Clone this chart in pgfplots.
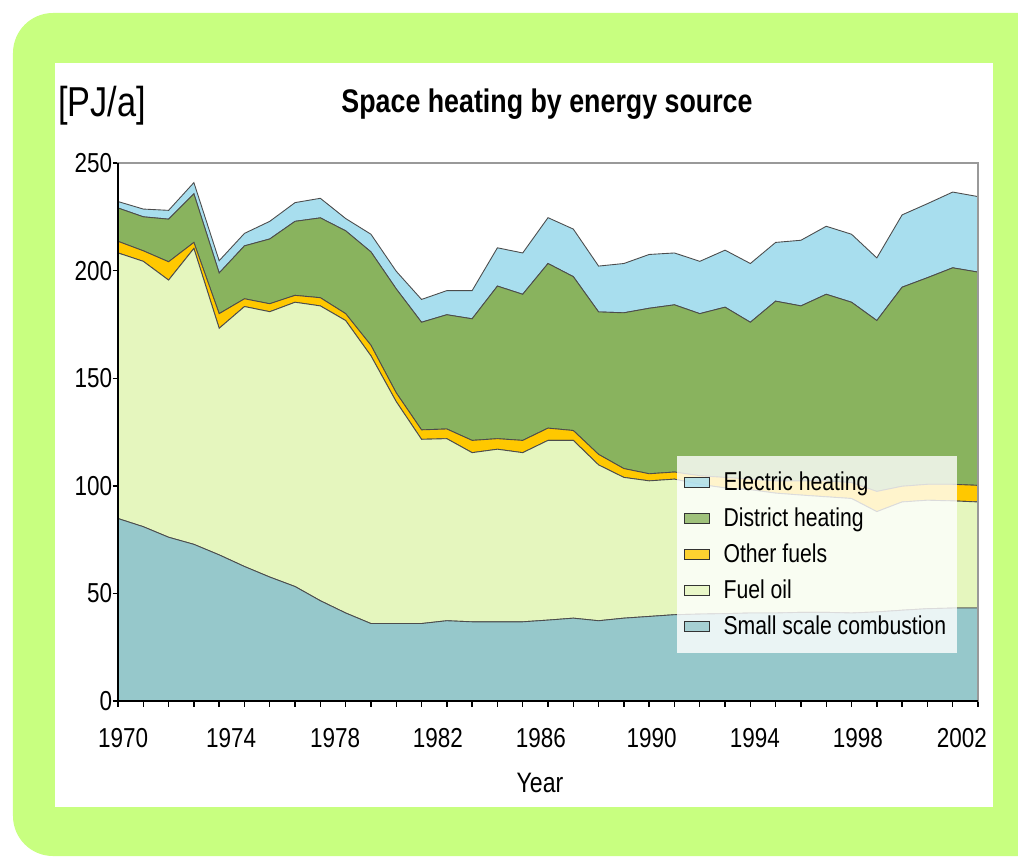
\documentclass[border=0pt]{standalone}
\usepackage{fontspec}
\setmainfont{Liberation Sans}[FakeStretch=0.82]
\usepackage{pgfplots}
\usepackage{pgfplotstable}
\pgfplotsset{compat=1.18}

\definecolor{bggreen}{RGB}{200,255,128}
\definecolor{elec}{RGB}{168,222,238}
\definecolor{dist}{RGB}{137,179,94}
\definecolor{otherf}{RGB}{255,200,0}
\definecolor{fueloil}{RGB}{229,246,190}
\definecolor{smallc}{RGB}{150,200,203}

% PJ/a per source, one row per year step (1970 ... 2002 end of axis)
\pgfplotstableread{
x small fuel other district electric
0 84.8 123.4 5.4 15.5 3.0
1 81.0 123.3 4.9 15.8 3.6
2 76.1 119.5 8.5 19.8 4.1
3 72.8 137.5 2.8 22.6 5.2
4 67.9 105.3 6.8 18.9 5.7
5 62.5 120.8 3.6 24.6 5.8
6 57.6 123.3 3.7 30.1 8.2
7 53.2 132.1 3.2 34.4 8.7
8 46.6 137.0 3.8 37.1 9.1
9 40.9 135.9 3.2 38.5 5.7
10 36.0 124.4 4.9 43.4 8.2
11 36.0 103.1 4.1 48.3 8.2
12 36.0 85.6 4.4 50.0 10.6
13 37.3 84.6 4.5 53.1 11.2
14 36.8 78.6 5.7 56.5 13.1
15 36.8 80.2 4.9 70.9 17.8
16 36.8 78.6 5.7 67.9 19.2
17 37.6 83.5 5.7 76.5 21.3
18 38.5 82.6 4.6 71.5 22.1
19 37.3 72.4 4.9 66.2 21.3
20 38.5 65.4 4.1 72.4 22.9
21 39.3 63.0 3.3 76.9 25.0
22 40.1 63.0 3.3 77.7 24.1
23 40.4 60.3 4.0 75.3 24.3
24 40.6 58.4 4.9 79.1 26.5
25 40.9 57.3 4.9 72.9 27.3
26 40.9 55.7 5.7 83.5 27.3
27 41.2 54.5 6.6 81.3 30.5
28 41.2 53.7 7.4 86.7 31.6
29 40.9 53.2 7.4 83.8 31.6
30 41.4 46.6 9.4 79.4 29.1
31 42.2 50.3 7.3 92.5 33.6
32 42.9 50.4 7.4 96.0 34.4
33 43.2 49.8 7.7 100.6 35.2
34 43.2 49.3 7.7 99.1 35.1
}\heating

\begin{document}
\begin{tikzpicture}
\useasboundingbox (0,0) rectangle (20.36,17.16);
\begin{scope}
  \clip (0,0) rectangle (20.36,17.16);
  \fill[white] (0,0) rectangle (20.36,17.16);
  \fill[bggreen, rounded corners=0.8cm] (0.26,0.04) rectangle (21.5,16.9);
  \fill[white] (1.10,1.02) rectangle (19.86,15.9);
\end{scope}

\node[anchor=base west, font=\fontsize{23.8}{26}\selectfont] at (1.04,14.82) {[PJ/a]};
\node[anchor=base, font=\bfseries\fontsize{18.6}{21}\selectfont] at (10.94,14.92) {Space heating by energy source};
\node[anchor=base, font=\fontsize{16}{18}\selectfont] at (10.8,1.32) {Year};

\begin{axis}[
  at={(2.36cm,3.14cm)}, anchor=south west,
  scale only axis, width=17.2cm, height=10.76cm,
  xmin=0, xmax=34, ymin=0, ymax=250,
  stack plots=y, area style,
  axis on top=true,
  xtick={0,...,34}, xticklabels={},
  extra x ticks={0.2,4.47,8.58,12.65,16.72,21.1,25.18,29.25,33.36},
  extra x tick labels={1970,1974,1978,1982,1986,1990,1994,1998,2002},
  extra x tick style={major tick length=0pt},
  ytick={0,50,...,250},
  xtick pos=bottom, ytick pos=left,
  tick align=outside,
  major tick length=0.11cm,
  tick style={black, line width=0.8pt},
  axis line style={draw=gray!80, line width=0.8pt},
  /pgf/number format/assume math mode=true,
  tick label style={font=\fontsize{15.6}{18}\selectfont},
  xticklabel style={anchor=base, yshift=-0.92cm},
  yticklabel style={inner xsep=0pt, xshift=0cm},
  legend style={at={(0.649,0.089)}, anchor=south west, draw=none,
    fill=white, fill opacity=0.8, text opacity=1,
    font=\fontsize{14.7}{17}\selectfont, row sep=0.15cm, column sep=0.2cm,
    inner xsep=0.15cm, inner ysep=0.25cm},
  legend cell align=left,
  reverse legend,
  legend image code/.code={\draw[#1,draw=black!80,line width=0.6pt] (0cm,-0.1cm) rectangle (0.5cm,0.1cm);},
  after end axis/.code={\draw[black, line width=0.9pt] (rel axis cs:0,1) -- (rel axis cs:0,0) -- (rel axis cs:1,0);}
]
\addplot[fill=smallc, draw=black!70, line width=0.5pt] table[x=x,y=small]{\heating} \closedcycle;
\addlegendentry{Small scale combustion}
\addplot[fill=fueloil, draw=black!70, line width=0.5pt] table[x=x,y=fuel]{\heating} \closedcycle;
\addlegendentry{Fuel oil}
\addplot[fill=otherf, draw=black!70, line width=0.5pt] table[x=x,y=other]{\heating} \closedcycle;
\addlegendentry{Other fuels}
\addplot[fill=dist, draw=black!70, line width=0.5pt] table[x=x,y=district]{\heating} \closedcycle;
\addlegendentry{District heating}
\addplot[fill=elec, draw=black!70, line width=0.5pt] table[x=x,y=electric]{\heating} \closedcycle;
\addlegendentry{Electric heating}
\end{axis}
\end{tikzpicture}
\end{document}
